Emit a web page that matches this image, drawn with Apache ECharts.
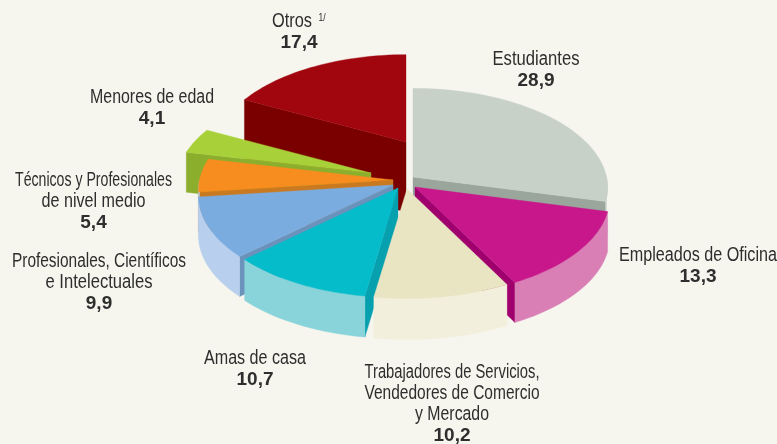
<!DOCTYPE html>
<html><head><meta charset="utf-8">
<style>html,body{margin:0;padding:0;background:#f6f5ee}#c{width:777px;height:444px}</style>
<script src="https://cdn.jsdelivr.net/npm/echarts@6/dist/echarts.min.js"></script>
</head><body><div id="c"></div>
<script>
// Data (clockwise from 12 o'clock)
const categories = ['Estudiantes','Empleados de Oficina','Trabajadores de Servicios,\nVendedores de Comercio\ny Mercado','Amas de casa','Profesionales, Científicos\ne Intelectuales','Técnicos y Profesionales\nde nivel medio','Menores de edad','Otros'];
const values = [28.9,13.3,10.2,10.7,9.9,5.4,4.1,17.4];
const footnote = '1/';

// Appearance and layout, by slice
const apexX = [413,415,407,398,393,393,371,406];
const apexY = [177,187,189,188,185,180,173,142];
const radiusScale = [1,1,1,1,1,1,1,0.985];
const thickness = [40,40,41,41,40,40,40,70];
const topColor = ['#c8d1c7','#c8178a','#e9e5c3','#05bccb','#7bace0','#f78d1e','#a8d038','#a1060f'];
const radialColor = ['#9aa59c','#a0006e','#f2efdc','#07a0ae','#6a92bb','#c97a20','#8cae2d','#7a0000'];
const rimColor = ['#c8d1c7','#d97fb5','#f2efdc','#88d4da','#b9cfee','#b9cfee','#8cae2d','#7a0000'];
const labelX = [536,698,452,255,99,93.5,152,292];
const labelY = [59,255,372,358,261,180,97,21];
const labelWidths = [[87],[158],[175,175,74],[102],[174,107],[157,104],[124],[40]];
const drawOrder = [7,0,1,6,5,4,3,2];

const R = 193.5, RB = 98, PERSP = 0.1055, LINE = 21, VALUE_GAP = 1;
const LABEL_FONT = '20px "Liberation Sans", sans-serif';
const VALUE_FONT = 'bold 19px "Liberation Sans", Arial, sans-serif';
const TEXT_COLOR = '#2e2e2e';

const total = values.reduce((a, b) => a + b, 0);
const startAngle = [];
values.reduce((acc, v, i) => { startAngle[i] = acc / total * Math.PI * 2; return acc + v; }, 0);
const measure = document.createElement('canvas').getContext('2d');
measure.font = LABEL_FONT;

function project(i, t, drop) {
  const d = 1 + PERSP * Math.cos(t), s = radiusScale[i];
  return [apexX[i] + s * R * Math.sin(t) / d, apexY[i] - s * RB * Math.cos(t) / d + (drop || 0)];
}
function arc(i, a, b, drop) {
  const n = Math.max(2, Math.ceil((b - a) / (Math.PI / 90)));
  const pts = [];
  for (let k = 0; k <= n; k++) pts.push(project(i, a + (b - a) * k / n, drop));
  return pts;
}
function poly(points, fill) {
  return { type: 'polygon', shape: { points }, style: { fill, stroke: fill, lineWidth: 0.4 } };
}
function text(x, y, str, font, scaleX) {
  return { type: 'text', x, y, scaleX: scaleX || 1, style: { x: 0, y: 0, text: str, font, fill: TEXT_COLOR, textAlign: 'center', textVerticalAlign: 'middle' } };
}

function renderItem(params, api) {
  const i = api.value(0), v = api.value(1);
  const a = startAngle[i], b = a + v / total * Math.PI * 2, h = thickness[i];
  const A = [apexX[i], apexY[i]], mid = project(i, (a + b) / 2);
  const children = [];
  [a, b].forEach(t => {
    const O = project(i, t);
    const dx = O[0] - A[0], dy = O[1] - A[1];
    const crossMid = dx * (mid[1] - A[1]) - dy * (mid[0] - A[0]);
    if (Math.abs(dx) > 1 && dx * crossMid < 0) {
      children.push(poly([A, O, [O[0], O[1] + h], [A[0], A[1] + h]], radialColor[i]));
    }
  });
  const f1 = Math.max(a, Math.PI / 2), f2 = Math.min(b, Math.PI * 1.5);
  if (f2 > f1) {
    children.push(poly(arc(i, f1, f2, 0).concat(arc(i, f1, f2, h).reverse()), rimColor[i]));
  }
  children.push(poly([A].concat(arc(i, a, b, 0)), topColor[i]));
  const lines = categories[i].split('\n');
  lines.forEach((s, k) => {
    children.push(text(labelX[i], labelY[i] + k * LINE, s, LABEL_FONT, labelWidths[i][k] / measure.measureText(s).width));
  });
  const vx = i === 7 ? labelX[i] + 7 : labelX[i];
  children.push(text(vx, labelY[i] + lines.length * LINE + VALUE_GAP, v.toFixed(1).replace('.', ','), VALUE_FONT));
  if (i === 7) children.push(text(labelX[i] + 30, labelY[i] - 3, footnote, '10px "Liberation Sans", sans-serif', 0.85));
  return { type: 'group', children };
}

const chart = echarts.init(document.getElementById('c'), null, { renderer: 'canvas' });
chart.setOption({
  animation: false,
  backgroundColor: '#f6f5ee',
  series: [{
    type: 'custom',
    coordinateSystem: 'none',
    renderItem,
    data: drawOrder.map(i => [i, values[i]])
  }]
});
</script></body></html>
